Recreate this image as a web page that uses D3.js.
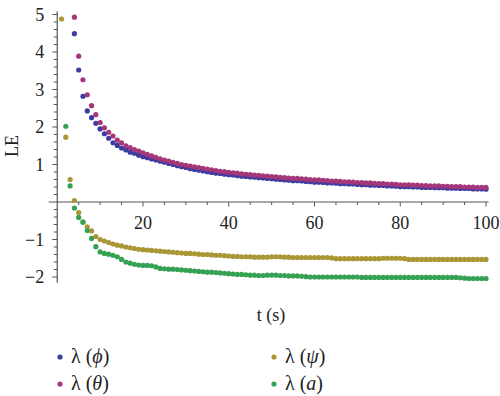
<!DOCTYPE html>
<html><head><meta charset="utf-8">
<script src="https://cdn.jsdelivr.net/npm/d3@7"></script>
<style>
html,body{margin:0;padding:0;background:#fff;}
svg{display:block;}
</style></head>
<body><svg id="c" width="500" height="396"></svg>
<script>
// time steps t = 1..100
const times = d3.range(1, 101);
const seriesNames = ["ϕ", "θ", "ψ", "a"];
const seriesColors = ["#3b3ba2", "#a4377a", "#a99634", "#35a152"];
// null = point above the plotted range
const lePhi = [null,null,null,4.49,3.52,2.82,2.43,2.25,2.10,1.95,1.82,1.70,1.58,1.51,1.44,1.39,1.33,1.30,1.25,1.21,1.18,1.15,1.12,1.09,1.06,1.03,1.00,0.97,0.94,0.92,0.89,0.87,0.85,0.83,0.81,0.79,0.77,0.76,0.74,0.73,0.72,0.70,0.69,0.68,0.67,0.66,0.65,0.64,0.63,0.62,0.61,0.60,0.59,0.58,0.57,0.57,0.56,0.55,0.54,0.53,0.53,0.52,0.51,0.51,0.50,0.49,0.49,0.48,0.48,0.47,0.46,0.46,0.45,0.45,0.44,0.44,0.43,0.43,0.42,0.41,0.41,0.41,0.40,0.40,0.39,0.39,0.39,0.38,0.38,0.38,0.37,0.37,0.37,0.36,0.36,0.36,0.35,0.35,0.35,0.34];
const leTheta = [null,null,null,4.93,3.89,3.26,2.86,2.57,2.33,2.12,1.98,1.86,1.76,1.65,1.58,1.50,1.45,1.40,1.36,1.31,1.27,1.23,1.19,1.15,1.12,1.09,1.06,1.03,1.00,0.98,0.96,0.94,0.92,0.90,0.88,0.86,0.84,0.82,0.81,0.79,0.78,0.77,0.75,0.74,0.73,0.72,0.71,0.70,0.69,0.68,0.67,0.66,0.65,0.64,0.63,0.63,0.62,0.61,0.60,0.59,0.59,0.58,0.57,0.56,0.56,0.55,0.54,0.54,0.53,0.52,0.52,0.51,0.51,0.50,0.49,0.49,0.48,0.48,0.47,0.46,0.46,0.46,0.45,0.45,0.44,0.44,0.43,0.43,0.43,0.42,0.42,0.41,0.41,0.41,0.40,0.40,0.40,0.39,0.39,0.39];
const lePsi = [4.88,1.73,0.60,0.04,-0.28,-0.53,-0.66,-0.77,-0.92,-1.00,-1.04,-1.08,-1.12,-1.15,-1.17,-1.20,-1.22,-1.24,-1.26,-1.27,-1.28,-1.29,-1.30,-1.31,-1.32,-1.33,-1.34,-1.35,-1.36,-1.37,-1.37,-1.38,-1.39,-1.40,-1.40,-1.41,-1.42,-1.42,-1.43,-1.44,-1.45,-1.45,-1.46,-1.46,-1.46,-1.47,-1.47,-1.47,-1.47,-1.46,-1.46,-1.46,-1.47,-1.47,-1.48,-1.48,-1.48,-1.48,-1.48,-1.48,-1.48,-1.48,-1.48,-1.49,-1.51,-1.51,-1.51,-1.51,-1.51,-1.51,-1.51,-1.51,-1.51,-1.51,-1.51,-1.50,-1.50,-1.50,-1.50,-1.50,-1.51,-1.53,-1.53,-1.53,-1.53,-1.53,-1.53,-1.53,-1.53,-1.53,-1.53,-1.53,-1.53,-1.53,-1.53,-1.53,-1.53,-1.53,-1.53,-1.53];
const leA = [null,2.02,0.43,-0.16,-0.41,-0.54,-0.76,-0.97,-1.19,-1.33,-1.37,-1.39,-1.42,-1.46,-1.53,-1.60,-1.63,-1.66,-1.68,-1.69,-1.69,-1.70,-1.73,-1.77,-1.78,-1.79,-1.79,-1.80,-1.81,-1.82,-1.83,-1.84,-1.85,-1.86,-1.87,-1.87,-1.88,-1.89,-1.90,-1.91,-1.92,-1.93,-1.93,-1.94,-1.95,-1.95,-1.96,-1.96,-1.95,-1.95,-1.95,-1.96,-1.96,-1.97,-1.97,-1.97,-1.98,-1.99,-2.00,-2.00,-2.00,-2.00,-2.00,-2.00,-2.00,-2.00,-2.00,-2.00,-2.00,-2.00,-2.01,-2.01,-2.01,-2.01,-2.01,-2.01,-2.01,-2.01,-2.01,-2.01,-2.01,-2.01,-2.01,-2.01,-2.01,-2.01,-2.01,-2.01,-2.01,-2.01,-2.01,-2.01,-2.01,-2.02,-2.03,-2.04,-2.04,-2.04,-2.04,-2.04];
const seriesValues = [lePhi, leTheta, lePsi, leA];
const xTicks = [20, 40, 60, 80, 100];
const yTicks = [-2, -1, 1, 2, 3, 4, 5];

const FONT = "'Liberation Serif', 'Times New Roman', Times, 'DejaVu Serif', serif";
const svg = d3.select("#c").attr("font-family", FONT);
const x = d3.scaleLinear().domain([0, 100]).range([57.25, 486]);
const y = d3.scaleLinear().domain([-2, 5]).range([277, 14.5]);
const axisColor = "#555";
const textColor = "#222";

// x axis line
svg.append("line").attr("x1", x(-2)).attr("x2", x(100.6)).attr("y1", y(0)).attr("y2", y(0))
  .attr("stroke", axisColor).attr("stroke-width", 1.2);
// y axis line
svg.append("line").attr("x1", x(0)).attr("x2", x(0)).attr("y1", y(5.08)).attr("y2", y(-2.15))
  .attr("stroke", axisColor).attr("stroke-width", 1.2);

// x ticks
d3.range(5, 101, 5).forEach(v => {
  const major = v % 20 === 0;
  svg.append("line").attr("x1", x(v)).attr("x2", x(v)).attr("y1", y(0)).attr("y2", y(0) + (major ? 4.5 : 3))
    .attr("stroke", axisColor).attr("stroke-width", 1);
});
xTicks.forEach(v => {
  svg.append("text").attr("font-family", FONT).attr("x", x(v)).attr("y", y(0) + 27).attr("text-anchor", "middle")
    .attr("font-size", 18).attr("fill", textColor).text(v);
});
// y ticks
d3.range(-10, 26).forEach(k => {
  const v = k / 5;
  if (v === 0) return;
  const major = k % 5 === 0;
  svg.append("line").attr("x1", x(0) - (major ? 5 : 3.5)).attr("x2", x(0)).attr("y1", y(v)).attr("y2", y(v))
    .attr("stroke", axisColor).attr("stroke-width", 1);
});
yTicks.forEach(v => {
  svg.append("text").attr("font-family", FONT).attr("x", x(0) - 13).attr("y", y(v) + 6).attr("text-anchor", "end")
    .attr("font-size", 18).attr("fill", textColor).text(v < 0 ? "−" + Math.abs(v) : v);
});

// axis titles
svg.append("text").attr("font-family", FONT).attr("transform", "translate(18,146) rotate(-90)").attr("text-anchor", "middle")
  .attr("font-size", 18).attr("fill", textColor).text("LE");
svg.append("text").attr("font-family", FONT).attr("x", 271).attr("y", 321).attr("text-anchor", "middle")
  .attr("font-size", 18).attr("fill", textColor).text("t (s)");

// points
seriesValues.forEach((vals, si) => {
  const pts = times.map((t, i) => ({t, v: vals[i]})).filter(d => d.v !== null && d.v !== undefined);
  svg.append("g").selectAll("circle").data(pts).join("circle")
    .attr("cx", d => x(d.t)).attr("cy", d => y(d.v)).attr("r", 2.6)
    .attr("fill", seriesColors[si]);
});

// legend
const legendPos = [[60, 357], [60, 384], [274, 357], [274, 384]];
seriesNames.forEach((n, i) => {
  const [lx, ly] = legendPos[i];
  svg.append("circle").attr("cx", lx).attr("cy", ly).attr("r", 2.6).attr("fill", seriesColors[i]);
  const t = svg.append("text").attr("font-family", FONT).attr("x", lx + 11).attr("y", ly + 6).attr("font-size", 20).attr("fill", textColor);
  t.append("tspan").text("λ (");
  t.append("tspan").attr("font-style", "italic").text(n);
  t.append("tspan").text(")");
});
</script></body></html>
